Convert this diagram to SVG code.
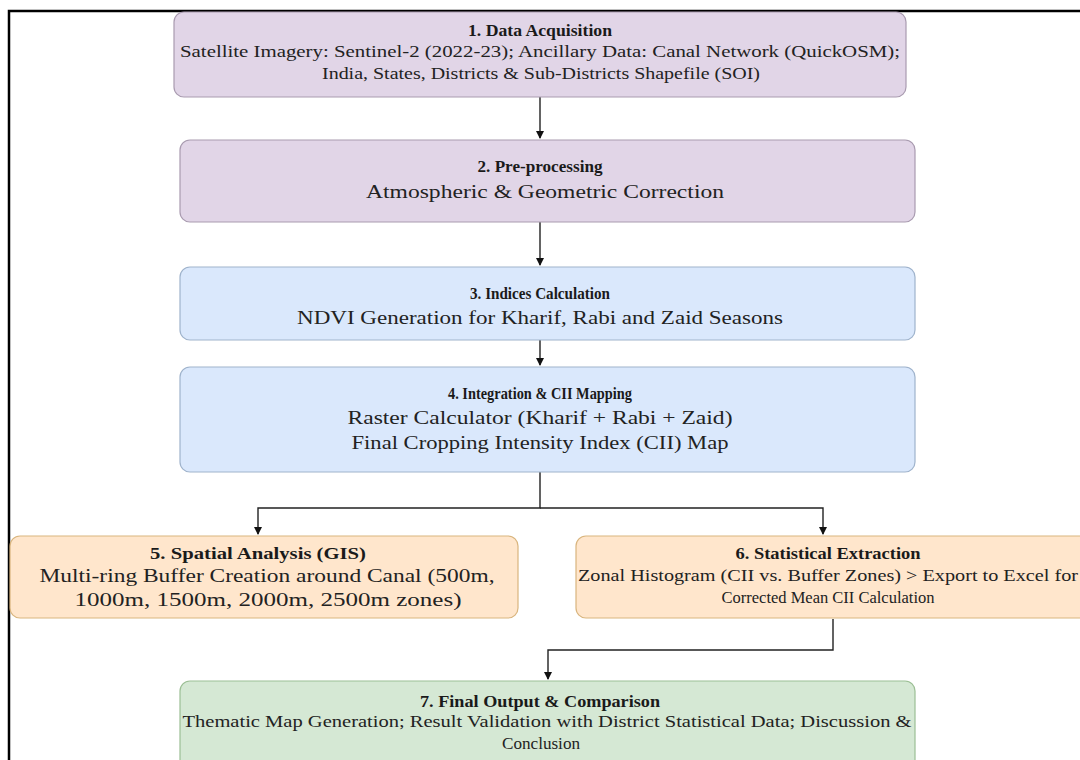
<svg xmlns="http://www.w3.org/2000/svg" width="1080" height="760" viewBox="0 0 1080 760">
<defs>
<marker id="arr" markerWidth="10" markerHeight="10" refX="8" refY="5" orient="auto" markerUnits="userSpaceOnUse">
<path d="M1,1 L9,5 L1,9 Z" fill="#111"/>
</marker>
<style>
.t{font-family:"Liberation Serif","DejaVu Serif",serif;font-weight:bold;font-size:17px;fill:#1a1a1a;text-anchor:middle}
.b{font-family:"Liberation Serif","DejaVu Serif",serif;font-size:16px;fill:#222;text-anchor:middle}
.bl{font-family:"Liberation Serif","DejaVu Serif",serif;font-size:18px;fill:#222;text-anchor:middle}
.p{fill:#e1d5e7;stroke:#a99bb0;stroke-width:1.2}
.bl1{fill:#dae8fc;stroke:#9fb3cc;stroke-width:1.2}
.o{fill:#ffe6cc;stroke:#d9b57e;stroke-width:1.2}
.g{fill:#d5e8d4;stroke:#9cbf95;stroke-width:1.2}
.c{fill:none;stroke:#222;stroke-width:1.4}
</style>
</defs>
<rect width="1080" height="760" fill="#fff"/>
<path d="M9,780 L9,11 L1085,11" fill="none" stroke="#000" stroke-width="2.5"/>

<g id="connectors">
<path class="c" d="M540,97 L540,138" marker-end="url(#arr)"/>
<path class="c" d="M540,222 L540,265" marker-end="url(#arr)"/>
<path class="c" d="M540,340 L540,365" marker-end="url(#arr)"/>
<path class="c" d="M540,472 L540,508 L258,508 L258,534" marker-end="url(#arr)"/>
<path class="c" d="M540,508 L823,508 L823,534" marker-end="url(#arr)"/>
<path class="c" d="M833,619 L833,650 L548,650 L548,679" marker-end="url(#arr)"/>
</g>

<g id="n1">
<rect class="p" x="174" y="12" width="732" height="85" rx="10"/>
<text class="t" x="540" y="36" textLength="144" lengthAdjust="spacingAndGlyphs">1. Data Acquisition</text>
<text class="b" x="540" y="57" textLength="720" lengthAdjust="spacingAndGlyphs">Satellite Imagery: Sentinel-2 (2022-23); Ancillary Data: Canal Network (QuickOSM);</text>
<text class="b" x="541" y="79" textLength="438" lengthAdjust="spacingAndGlyphs">India, States, Districts &amp; Sub-Districts Shapefile (SOI)</text>
</g>

<g id="n2">
<rect class="p" x="180" y="140" width="735" height="82" rx="10"/>
<text class="t" x="540" y="172" textLength="125" lengthAdjust="spacingAndGlyphs">2. Pre-processing</text>
<text class="bl" x="545" y="198" textLength="358" lengthAdjust="spacingAndGlyphs">Atmospheric &amp; Geometric Correction</text>
</g>

<g id="n3">
<rect class="bl1" x="180" y="267" width="735" height="73" rx="10"/>
<text class="t" x="540" y="299" textLength="140" lengthAdjust="spacingAndGlyphs">3. Indices Calculation</text>
<text class="bl" x="540" y="324" textLength="486" lengthAdjust="spacingAndGlyphs">NDVI Generation for Kharif, Rabi and Zaid Seasons</text>
</g>

<g id="n4">
<rect class="bl1" x="180" y="367" width="735" height="105" rx="10"/>
<text class="t" x="540" y="399" textLength="184" lengthAdjust="spacingAndGlyphs">4. Integration &amp; CII Mapping</text>
<text class="bl" x="540" y="424" textLength="385" lengthAdjust="spacingAndGlyphs">Raster Calculator (Kharif + Rabi + Zaid)</text>
<text class="bl" x="540" y="449" textLength="377" lengthAdjust="spacingAndGlyphs">Final Cropping Intensity Index (CII) Map</text>
</g>

<g id="n5">
<rect class="o" x="10" y="536" width="508" height="82" rx="10"/>
<text class="t" x="258" y="559" textLength="216" lengthAdjust="spacingAndGlyphs">5. Spatial Analysis (GIS)</text>
<text class="bl" x="267" y="582" textLength="455" lengthAdjust="spacingAndGlyphs">Multi-ring Buffer Creation around Canal (500m,</text>
<text class="bl" x="268" y="606" textLength="387" lengthAdjust="spacingAndGlyphs">1000m, 1500m, 2000m, 2500m zones)</text>
</g>

<g id="n6">
<rect class="o" x="576" y="536" width="515" height="82" rx="10"/>
<text class="t" x="828" y="559" textLength="185" lengthAdjust="spacingAndGlyphs">6. Statistical Extraction</text>
<text class="b" x="828" y="581" textLength="500" lengthAdjust="spacingAndGlyphs">Zonal Histogram (CII vs. Buffer Zones) &gt; Export to Excel for</text>
<text class="b" x="828" y="603" textLength="213" lengthAdjust="spacingAndGlyphs">Corrected Mean CII Calculation</text>
</g>

<g id="n7">
<rect class="g" x="180" y="681" width="735" height="90" rx="10"/>
<text class="t" x="540" y="707" textLength="240" lengthAdjust="spacingAndGlyphs">7. Final Output &amp; Comparison</text>
<text class="b" x="547" y="727" textLength="729" lengthAdjust="spacingAndGlyphs">Thematic Map Generation; Result Validation with District Statistical Data; Discussion &amp;</text>
<text class="b" x="541" y="749" textLength="78" lengthAdjust="spacingAndGlyphs">Conclusion</text>
</g>
</svg>
